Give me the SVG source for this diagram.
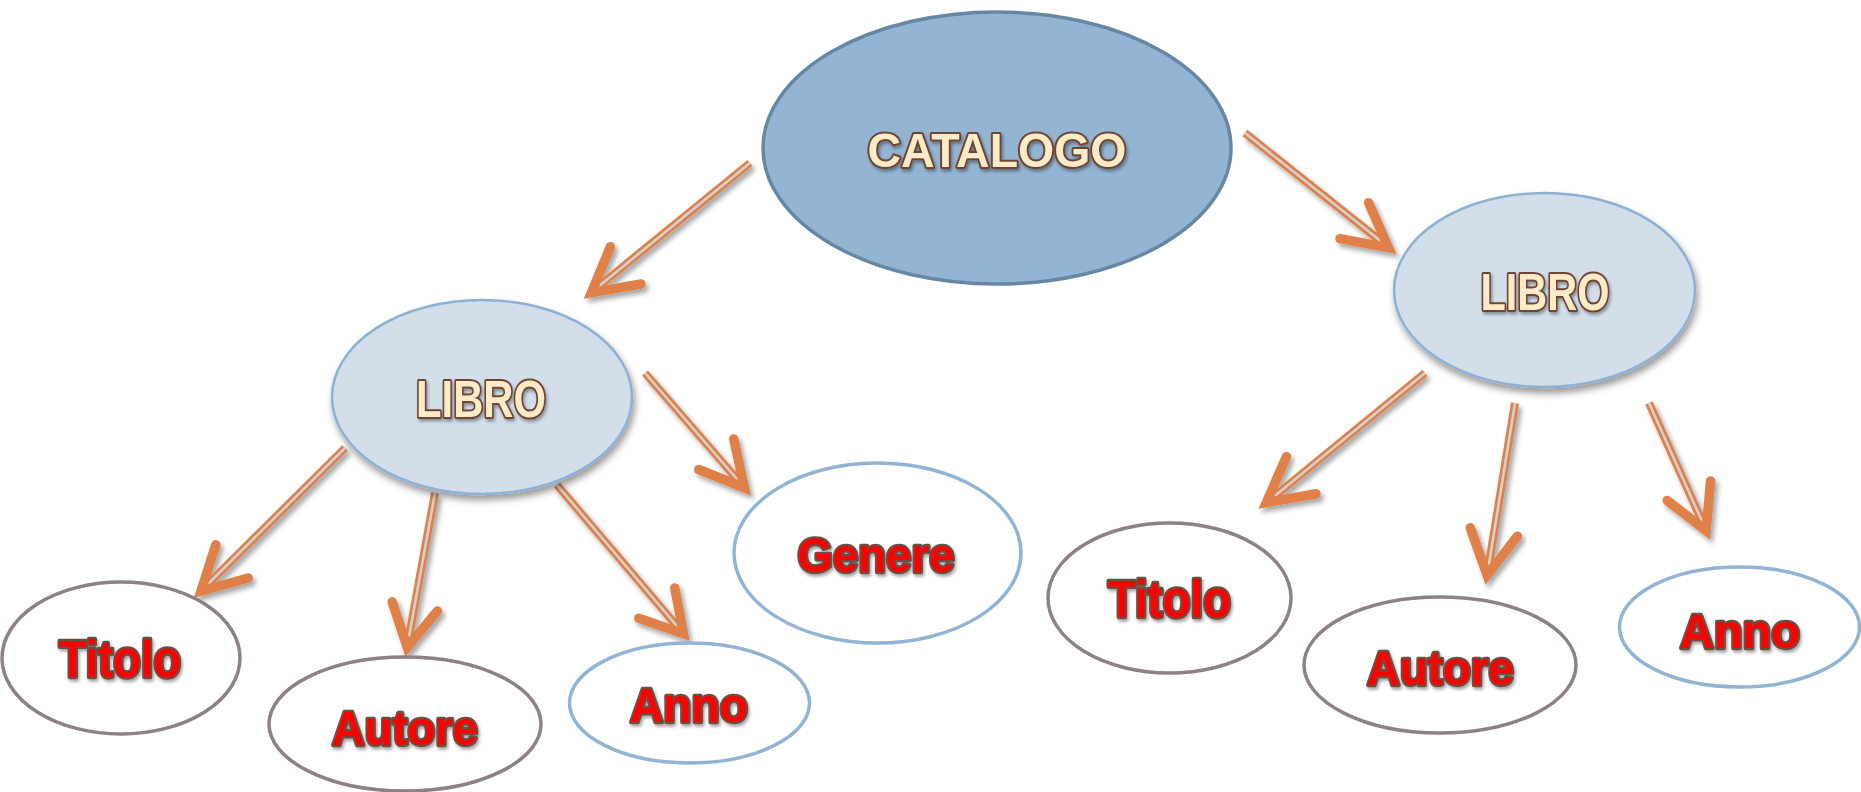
<svg xmlns="http://www.w3.org/2000/svg" width="1861" height="792" viewBox="0 0 1861 792">
<defs>
<filter id="shE" x="-20%" y="-20%" width="140%" height="150%"><feDropShadow dx="2" dy="5" stdDeviation="3.5" flood-color="#000" flood-opacity="0.4"/></filter>
<filter id="shA" x="-20%" y="-20%" width="140%" height="140%"><feDropShadow dx="3" dy="4" stdDeviation="2.5" flood-color="#000" flood-opacity="0.35"/></filter>
<filter id="shT" x="-10%" y="-20%" width="120%" height="150%"><feDropShadow dx="1.5" dy="2.5" stdDeviation="1.5" flood-color="#000" flood-opacity="0.35"/></filter>
</defs>
<style>
.bg{fill:#ffffff}
.cat{fill:#93B4D2;stroke:#6786A3;stroke-width:3.5}
.libro{fill:#D3DEEB;stroke:#8EB1D3;stroke-width:2.5}
.leafG{fill:#ffffff;stroke:#8C8283;stroke-width:3.5}
.leafB{fill:#ffffff;stroke:#92B4D4;stroke-width:3.5}
.ttl{font-family:"Liberation Sans",Arial,sans-serif;font-weight:bold;fill:#FDEBC8;stroke:#6E4431;stroke-width:4;paint-order:stroke;stroke-linejoin:round;text-anchor:middle}
.lbl{font-family:"Liberation Sans",Arial,sans-serif;font-weight:bold;fill:#FF0000;stroke:#6B4F45;stroke-width:4.5;paint-order:stroke;stroke-linejoin:round;text-anchor:middle}
.sh{fill:none;stroke:#E0804A;stroke-width:8;stroke-linecap:butt}
.si{fill:none;stroke:#D2D2D2;stroke-width:2.6;stroke-linecap:butt}
.hd{fill:none;stroke:#E0804A;stroke-width:9.5;stroke-linecap:round;stroke-linejoin:miter;stroke-miterlimit:6}
</style>
<rect class="bg" x="0" y="0" width="1861" height="792"/>

<g id="connectors">
<g id="a1" filter="url(#shA)"><path class="sh" d="M750,163 L593,291"/><path class="si" d="M750,163 L593,291"/><path class="hd" d="M610.4,246.7 L591.4,292.6 L641,284"/></g>
<g id="a2" filter="url(#shA)"><path class="sh" d="M1245,133 L1387,246"/><path class="si" d="M1245,133 L1387,246"/><path class="hd" d="M1368.6,202.7 L1388.5,247.6 L1340,238.7"/></g>
<g id="a3" filter="url(#shA)"><path class="sh" d="M345,448 L202.5,589.5"/><path class="si" d="M345,448 L202.5,589.5"/><path class="hd" d="M215.8,544.8 L201,591 L248.2,578"/></g>
<g id="a4" filter="url(#shA)"><path class="sh" d="M435,493 L407.5,645"/><path class="si" d="M435,493 L407.5,645"/><path class="hd" d="M392.2,601.8 L407.2,647.1 L437.4,611"/></g>
<g id="a5" filter="url(#shA)"><path class="sh" d="M557,485 L682,632"/><path class="si" d="M557,485 L682,632"/><path class="hd" d="M674.8,588 L683.5,633.7 L638.8,618.3"/></g>
<g id="a6" filter="url(#shA)"><path class="sh" d="M645,373 L743,486"/><path class="si" d="M645,373 L743,486"/><path class="hd" d="M733.8,438.9 L744.4,487.7 L698.7,469.5"/></g>
<g id="a7" filter="url(#shA)"><path class="sh" d="M1425,373 L1268,501.5"/><path class="si" d="M1425,373 L1268,501.5"/><path class="hd" d="M1286.4,456.7 L1266.4,502.6 L1316,493.7"/></g>
<g id="a8" filter="url(#shA)"><path class="sh" d="M1515,403 L1487.5,573"/><path class="si" d="M1515,403 L1487.5,573"/><path class="hd" d="M1470.3,527.8 L1487.1,575.1 L1517.5,536.2"/></g>
<g id="a9" filter="url(#shA)"><path class="sh" d="M1649,403 L1705.5,529"/><path class="si" d="M1649,403 L1705.5,529"/><path class="hd" d="M1710.6,481 L1706.1,530.6 L1667.2,500.4"/></g>
</g>

<g id="catalogo">
<ellipse class="cat" cx="997" cy="148" rx="234" ry="136"/>
<text class="ttl" x="997" y="167" font-size="48" textLength="259" lengthAdjust="spacingAndGlyphs" filter="url(#shT)">CATALOGO</text>
</g>

<g id="libro-left">
<ellipse class="libro" cx="482" cy="397" rx="150" ry="97" filter="url(#shE)"/>
<text class="ttl" x="481" y="417" font-size="51" textLength="130" lengthAdjust="spacingAndGlyphs" filter="url(#shT)">LIBRO</text>
</g>

<g id="libro-right">
<ellipse class="libro" cx="1544.5" cy="290" rx="150.5" ry="97" filter="url(#shE)"/>
<text class="ttl" x="1545" y="310" font-size="51" textLength="129" lengthAdjust="spacingAndGlyphs" filter="url(#shT)">LIBRO</text>
</g>

<g id="titolo-left">
<ellipse class="leafG" cx="121" cy="658" rx="119" ry="76"/>
<text class="lbl" x="120" y="677" font-size="51" textLength="122" lengthAdjust="spacingAndGlyphs" filter="url(#shT)">Titolo</text>
</g>

<g id="autore-left">
<ellipse class="leafG" cx="405" cy="724" rx="136" ry="67"/>
<text class="lbl" x="405" y="745" font-size="49" textLength="146" lengthAdjust="spacingAndGlyphs" filter="url(#shT)">Autore</text>
</g>

<g id="anno-left">
<ellipse class="leafB" cx="689.5" cy="703" rx="120" ry="60"/>
<text class="lbl" x="689" y="722" font-size="49" textLength="118" lengthAdjust="spacingAndGlyphs" filter="url(#shT)">Anno</text>
</g>

<g id="genere">
<ellipse class="leafB" cx="877.5" cy="553" rx="143.5" ry="90"/>
<text class="lbl" x="876" y="572" font-size="49" textLength="157" lengthAdjust="spacingAndGlyphs" filter="url(#shT)">Genere</text>
</g>

<g id="titolo-right">
<ellipse class="leafG" cx="1169.5" cy="598" rx="121.5" ry="75"/>
<text class="lbl" x="1169.5" y="617" font-size="51" textLength="123" lengthAdjust="spacingAndGlyphs" filter="url(#shT)">Titolo</text>
</g>

<g id="autore-right">
<ellipse class="leafG" cx="1440" cy="665" rx="136" ry="68"/>
<text class="lbl" x="1440.5" y="685" font-size="49" textLength="147" lengthAdjust="spacingAndGlyphs" filter="url(#shT)">Autore</text>
</g>

<g id="anno-right">
<ellipse class="leafB" cx="1739.5" cy="627" rx="120" ry="60"/>
<text class="lbl" x="1740" y="648" font-size="49" textLength="120" lengthAdjust="spacingAndGlyphs" filter="url(#shT)">Anno</text>
</g>
</svg>
